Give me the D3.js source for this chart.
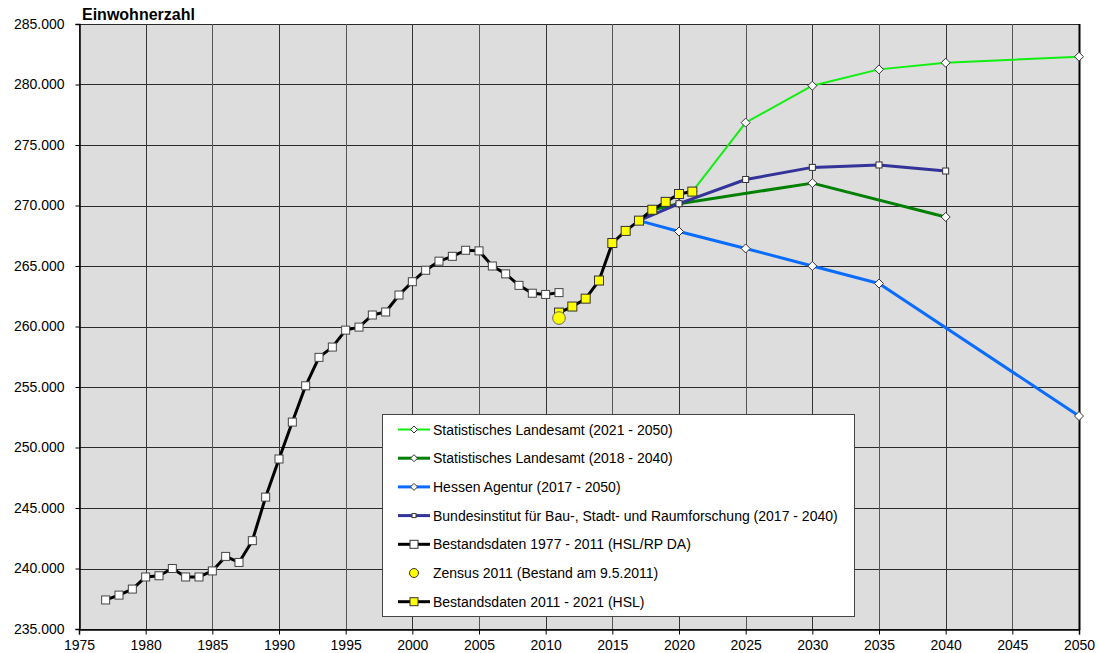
<!DOCTYPE html>
<html>
<head>
<meta charset="utf-8">
<script src="https://cdn.jsdelivr.net/npm/d3@7"></script>
<style>
  body { margin: 0; background: #fff; }
  svg { display: block; font-family: "Liberation Sans", Arial, sans-serif; }
  .axis text { font-size: 14px; fill: #000; font-family: "Liberation Sans", Arial, sans-serif; }
  .axis path, .axis line { stroke: #000; }
</style>
</head>
<body>
<svg id="chart" width="1099" height="653"></svg>
<script>
"use strict"

// Bestandsdaten 1977 - 2011 (HSL/RP DA)
const histYears = [1977, 1978, 1979, 1980, 1981, 1982, 1983, 1984, 1985, 1986, 1987, 1988,
  1989, 1990, 1991, 1992, 1993, 1994, 1995, 1996, 1997, 1998, 1999, 2000, 2001, 2002,
  2003, 2004, 2005, 2006, 2007, 2008, 2009, 2010, 2011]
const histValues = [237400, 237800, 238300, 239300, 239400, 240000, 239300, 239300, 239800, 241000, 240500, 242300,
  245900, 249050, 252100, 255100, 257450, 258300, 259700, 259950, 260950, 261200, 262600, 263700, 264650, 265400,
  265800, 266300, 266250, 265000, 264350, 263400, 262750, 262650, 262800]

// Bestandsdaten 2011 - 2021 (HSL)
const hslYears = [2011, 2012, 2013, 2014, 2015, 2016, 2017, 2018, 2019, 2020, 2021]
const hslValues = [261150, 261650, 262300, 263800, 266900, 267900, 268750, 269650, 270300, 270950, 271150]

// Zensus 2011
const censusYears = [2011]
const censusValues = [260700]

// Prognosen
const slYears21 = [2021, 2025, 2030, 2035, 2040, 2050]
const slValues21 = [271150, 276850, 279900, 281250, 281800, 282300]
const slYears18 = [2018, 2020, 2030, 2040]
const slValues18 = [269650, 270150, 271850, 269050]
const haYears = [2017, 2020, 2025, 2030, 2035, 2050]
const haValues = [268750, 267850, 266450, 265000, 263550, 252600]
const bbsrYears = [2017, 2020, 2025, 2030, 2035, 2040]
const bbsrValues = [268750, 270150, 272150, 273150, 273350, 272850]

const xTicks = [1975, 1980, 1985, 1990, 1995, 2000, 2005, 2010, 2015, 2020, 2025, 2030, 2035, 2040, 2045, 2050]
const yTicks = [235000, 240000, 245000, 250000, 255000, 260000, 265000, 270000, 275000, 280000, 285000]

const zip = (xs, ys) => xs.map((x, i) => ({ year: x, value: ys[i] }))

const series = [
  { name: "Statistisches Landesamt (2021 - 2050)", data: zip(slYears21, slValues21), color: "#11ee11", width: 2, marker: "diamond" },
  { name: "Statistisches Landesamt (2018 - 2040)", data: zip(slYears18, slValues18), color: "#008000", width: 3, marker: "diamond" },
  { name: "Hessen Agentur (2017 - 2050)", data: zip(haYears, haValues), color: "#0a6cff", width: 3, marker: "diamond" },
  { name: "Bundesinstitut für Bau-, Stadt- und Raumforschung (2017 - 2040)", data: zip(bbsrYears, bbsrValues), color: "#333399", width: 3, marker: "small" },
  { name: "Bestandsdaten 1977 - 2011 (HSL/RP DA)", data: zip(histYears, histValues), color: "#000", width: 3, marker: "white" },
  { name: "Zensus 2011 (Bestand am 9.5.2011)", data: zip(censusYears, censusValues), color: null, width: 0, marker: "circle" },
  { name: "Bestandsdaten 2011 - 2021 (HSL)", data: zip(hslYears, hslValues), color: "#000", width: 3, marker: "yellow" }
]

// draw order (back to front)
const drawOrder = [0, 1, 2, 3, 4, 6, 5]

const plotLeft = 79, plotRight = 1079, plotTop = 24, plotBottom = 629

const x = d3.scaleLinear().domain([1975, 2050]).range([plotLeft, plotRight])
const y = d3.scaleLinear().domain([235000, 285000]).range([plotBottom, plotTop])

const de = d3.formatLocale({ decimal: ",", thousands: ".", grouping: [3], currency: ["", " €"] })
const fmt = de.format(",")

const svg = d3.select("#chart")

svg.append("rect")
  .attr("x", plotLeft).attr("y", plotTop)
  .attr("width", plotRight - plotLeft).attr("height", plotBottom - plotTop)
  .attr("fill", "#dddddd")

// grid
const grid = svg.append("g").attr("stroke", "#2a2a2a").attr("stroke-width", 1)
grid.selectAll(".hg").data(yTicks).enter().append("line")
  .attr("x1", plotLeft).attr("x2", plotRight)
  .attr("y1", d => Math.round(y(d)) + 0.5).attr("y2", d => Math.round(y(d)) + 0.5)
grid.selectAll(".vg").data(xTicks).enter().append("line")
  .attr("y1", plotTop).attr("y2", plotBottom)
  .attr("x1", d => Math.round(x(d)) + 0.5).attr("x2", d => Math.round(x(d)) + 0.5)
  .attr("stroke", (d, i) => i % 2 ? "#333" : "#555")

// right border
svg.append("line")
  .attr("x1", plotRight + 0.5).attr("x2", plotRight + 0.5).attr("y1", plotTop).attr("y2", plotBottom + 1)
  .attr("stroke", "#000").attr("stroke-width", 2)

// axes
svg.append("g").attr("class", "axis")
  .attr("transform", `translate(${plotLeft + 0.5},0)`)
  .call(d3.axisLeft(y).tickValues(yTicks).tickFormat(fmt).tickSize(4).tickPadding(11))
  .call(g => g.select(".domain").attr("stroke-width", 1.5))

svg.append("g").attr("class", "axis")
  .attr("transform", `translate(0,${plotBottom + 0.5})`)
  .call(d3.axisBottom(x).tickValues(xTicks).tickFormat(d3.format("d")).tickSize(5).tickPadding(6))
  .call(g => g.select(".domain").attr("stroke-width", 1.5))

svg.append("text")
  .attr("x", 82).attr("y", 20)
  .attr("font-size", 16).attr("font-weight", "bold")
  .text("Einwohnerzahl")

const line = d3.line().x(d => x(d.year)).y(d => y(d.value))

function drawMarker(g, type, cx, cy) {
  if (type === "diamond") {
    g.append("path")
      .attr("d", `M${cx},${cy - 4.5}L${cx + 4.5},${cy}L${cx},${cy + 4.5}L${cx - 4.5},${cy}Z`)
      .attr("fill", "#fff").attr("stroke", "#333").attr("stroke-width", 1)
  } else if (type === "small") {
    g.append("rect").attr("x", cx - 3).attr("y", cy - 3).attr("width", 6).attr("height", 6)
      .attr("fill", "#fff").attr("stroke", "#333").attr("stroke-width", 1)
  } else if (type === "white") {
    g.append("rect").attr("x", cx - 4).attr("y", cy - 4).attr("width", 8).attr("height", 8)
      .attr("fill", "#fff").attr("stroke", "#444").attr("stroke-width", 1)
  } else if (type === "yellow") {
    g.append("rect").attr("x", cx - 4.5).attr("y", cy - 4.5).attr("width", 9).attr("height", 9)
      .attr("fill", "#ffff00").attr("stroke", "#333").attr("stroke-width", 1)
  } else if (type === "circle") {
    g.append("circle").attr("cx", cx).attr("cy", cy).attr("r", 6.3)
      .attr("fill", "#ffff00").attr("stroke", "#666").attr("stroke-width", 1)
  }
}

const plot = svg.append("g")
drawOrder.forEach(i => {
  const s = series[i]
  const g = plot.append("g")
  if (s.color) {
    g.append("path").datum(s.data)
      .attr("d", line)
      .attr("fill", "none")
      .attr("stroke", s.color)
      .attr("stroke-width", s.width)
      .attr("stroke-linejoin", "round")
  }
  s.data.forEach(d => drawMarker(g, s.marker, x(d.year), y(d.value)))
})

// legend
const lg = svg.append("g")
lg.append("rect")
  .attr("x", 382.5).attr("y", 414.5).attr("width", 472).attr("height", 202)
  .attr("fill", "#fff").attr("stroke", "#444").attr("stroke-width", 1)

series.forEach((s, i) => {
  const ry = 429.5 + i * 28.7
  const row = lg.append("g")
  if (s.color) {
    row.append("line")
      .attr("x1", 398).attr("x2", 430).attr("y1", ry).attr("y2", ry)
      .attr("stroke", s.color).attr("stroke-width", s.width)
  }
  if (s.marker === "circle") {
    row.append("circle").attr("cx", 414).attr("cy", ry).attr("r", 4.5)
      .attr("fill", "#ffff00").attr("stroke", "#333").attr("stroke-width", 1)
  } else if (s.marker === "diamond") {
    row.append("path")
      .attr("d", `M414,${ry - 3.5}L417.5,${ry}L414,${ry + 3.5}L410.5,${ry}Z`)
      .attr("fill", "#fff").attr("stroke", "#333").attr("stroke-width", 1)
  } else if (s.marker === "small") {
    row.append("rect").attr("x", 412).attr("y", ry - 2).attr("width", 4).attr("height", 4)
      .attr("fill", "#fff").attr("stroke", "#333").attr("stroke-width", 1)
  } else {
    row.append("rect").attr("x", 410).attr("y", ry - 4).attr("width", 8).attr("height", 8)
      .attr("fill", s.marker === "yellow" ? "#ffff00" : "#fff").attr("stroke", "#333").attr("stroke-width", 1)
  }
  row.append("text")
    .attr("x", 433).attr("y", ry + 5)
    .attr("font-size", 14)
    .text(s.name)
})
</script>
</body>
</html>
